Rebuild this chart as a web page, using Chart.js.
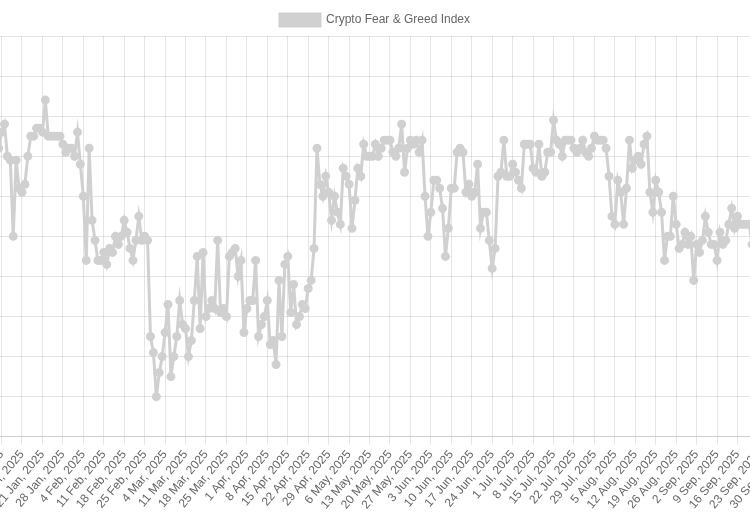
<!DOCTYPE html>
<html>
<head>
<meta charset="utf-8">
<script src="https://cdn.jsdelivr.net/npm/chart.js@4"></script>
<style>
  html, body { margin: 0; padding: 0; background: #fff; overflow: hidden; }
  #wrap { position: absolute; left: -50px; top: 0; width: 850px; height: 515px; }
</style>
</head>
<body>
<div id="wrap"><canvas id="fngChart"></canvas></div>
<script>
// Fear & Greed values, daily from 1 Jan 2025
const fngValues = [
  64.5, 66, 70, 74, 73, 72, 76, 78, 70, 69, 50, 69, 62, 61, 63, 70, 75, 75, 77, 77, 76, 84, 75, 75, 75, 75, 75, 73, 71, 72, 72, 70, 76, 68, 60, 44, 72, 54, 49, 44, 44, 46, 43, 47,
  46, 50, 48, 50, 54, 51, 47, 44, 49, 55, 49, 50, 49, 25, 21, 10, 16, 20, 26, 33, 15, 20, 25, 34, 28, 27, 20, 24, 34, 45, 27, 46, 30, 32, 34, 32, 49, 31, 32, 30, 45, 46, 47, 40, 44, 26,
  32, 34, 34, 44, 25, 28, 30, 34, 23, 24, 18, 39, 25, 43, 45, 31, 38, 28, 30, 33, 32, 37, 39, 47, 72, 63, 60, 65, 61, 54, 60, 56, 53, 67, 65, 63, 52, 59, 67, 65, 73,
  70, 70, 70, 73, 70, 72, 74, 74, 74, 71, 70, 72, 78, 66, 72, 74, 73, 74, 71, 74, 60, 50, 56, 64, 64, 62, 57, 45, 52, 62, 62, 71, 72, 71, 61, 63, 60, 61, 68, 52, 56, 56, 49,
  42, 47, 65, 66, 74, 65, 65, 68, 66, 64, 62, 73, 73, 73, 67, 66, 73, 65, 66, 71, 71, 79, 74, 73, 70, 74, 74, 74, 72, 71, 72, 74, 71, 70, 72, 75, 74, 74, 74, 72, 65,
  55, 53, 64, 61, 53, 62, 74, 67, 69, 70, 68, 73, 75, 61, 56, 64, 61, 56, 44, 50, 50, 60, 53, 47, 48, 51, 48, 50, 39, 48, 46, 49, 55, 51, 48, 48, 44, 51, 48, 49, 53, 57, 52, 55, 53, 53, 53, 53, 48
];
const monthNames = ['Jan', 'Feb', 'Mar', 'Apr', 'May', 'Jun', 'Jul', 'Aug', 'Sep', 'Oct'];
const dayCount = 278; // 1 Jan .. 5 Oct

const dateLabels = [];
for (let i = 0; i < dayCount; i++) {
  const d = new Date(Date.UTC(2025, 0, 1 + i));
  dateLabels.push(d.getUTCDate() + ' ' + monthNames[d.getUTCMonth()] + ', 2025');
}

const ctx = document.getElementById('fngChart').getContext('2d');
new Chart(ctx, {
  type: 'line',
  data: {
    labels: dateLabels,
    datasets: [{
      label: 'Crypto Fear & Greed Index',
      data: fngValues,
      borderColor: 'rgb(208, 208, 208)',
      backgroundColor: 'rgb(208, 208, 208)',
      borderWidth: 3,
      pointRadius: 3,
      tension: 0
    }]
  },
  options: {
    responsive: true,
    maintainAspectRatio: false,
    animation: false,
    layout: { padding: { top: 4 } },
    plugins: {
      legend: {
        labels: { color: '#666', font: { family: 'Liberation Sans, Arial', size: 12 } }
      },
      tooltip: { enabled: false }
    },
    scales: {
      x: {
        grid: { color: 'rgba(0,0,0,0.1)' },
        ticks: {
          autoSkip: false,
          maxRotation: 50,
          minRotation: 50,
          color: '#666',
          font: { family: 'Liberation Sans, Arial', size: 12 },
          callback: (val, idx) => (idx % 7 === 6 ? dateLabels[idx] : null)
        }
      },
      y: {
        min: 0,
        max: 100,
        grid: { color: 'rgba(0,0,0,0.1)' },
        ticks: { stepSize: 10, color: '#666' }
      }
    }
  }
});
</script>
</body>
</html>
